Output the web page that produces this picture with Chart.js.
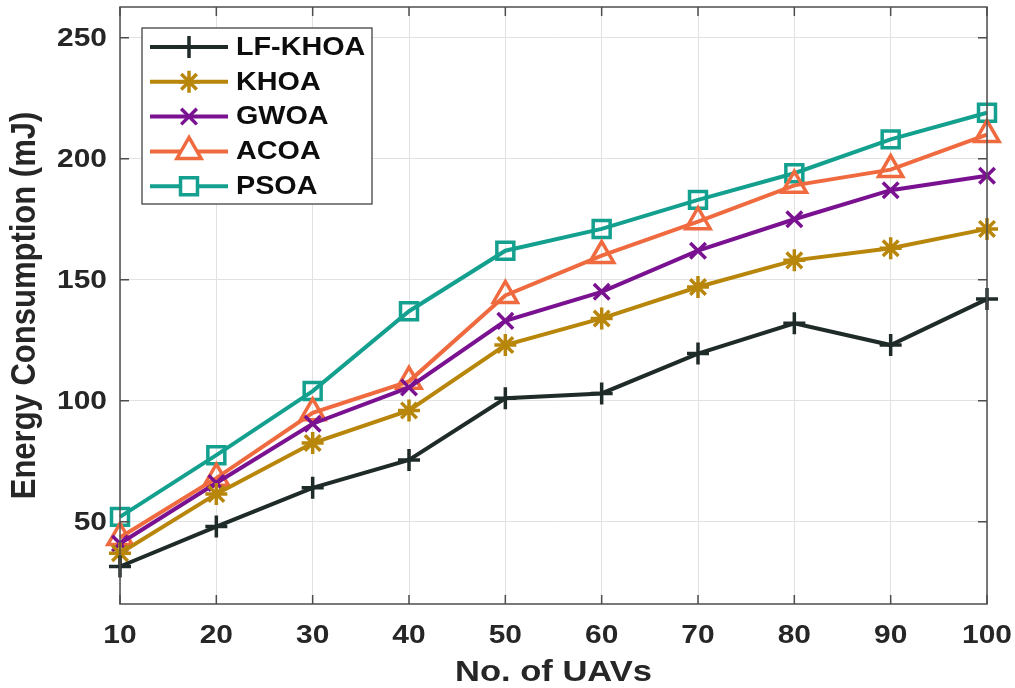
<!DOCTYPE html>
<html>
<head>
<meta charset="utf-8">
<script src="https://cdn.jsdelivr.net/npm/chart.js@4.4.1/dist/chart.umd.min.js"></script>
<style>
  html, body { margin: 0; padding: 0; background: #fff; }
  #wrap { width: 1015px; height: 688px; }
</style>
</head>
<body>
<div id="wrap"><canvas id="chartEnergi" width="1015" height="688"></canvas></div>
<script>
// Data dari gambar
const jumlahUAV = ['10', '20', '30', '40', '50', '60', '70', '80', '90', '100'];
const lfKhoa = [31.5, 48, 64, 75.5, 101, 103, 119.5, 132, 123, 142];
const khoa = [37, 61.5, 82.5, 96, 123, 134, 147, 158, 163, 171];
const gwoa = [41, 66, 90.5, 105.5, 133, 145, 162, 175, 187, 193];
const acoa = [43.5, 68, 95, 108, 143.5, 160, 174, 189, 195.5, 210];
const psoa = [52, 77.5, 104, 137, 162, 171, 183, 194, 208, 219];
const yTicks = [50, 100, 150, 200, 250];

const namaSeri = ['LF-KHOA', 'KHOA', 'GWOA', 'ACOA', 'PSOA'];
const warna = ['#1f2b29', '#b8860b', '#7a1190', '#ef6b3f', '#14a08e'];
const marker = ['cross', 'star', 'crossRot', 'triangle', 'rect'];
const ukuranMarker = [11, 11, 11, 14, 12];
const nilaiSeri = [lfKhoa, khoa, gwoa, acoa, psoa];

const fontUtama = '"Liberation Sans", Arial, sans-serif';
const regang = 1.15; // teks di gambar asli agak melebar

function buatDataset(i) {
    return {
        label: namaSeri[i],
        data: nilaiSeri[i],
        borderColor: warna[i],
        backgroundColor: 'rgba(0,0,0,0)',
        pointBorderColor: warna[i],
        pointBackgroundColor: 'rgba(0,0,0,0)',
        borderWidth: 4,
        pointBorderWidth: 3.5,
        pointStyle: marker[i],
        pointRadius: ukuranMarker[i],
        pointHoverRadius: ukuranMarker[i],
        tension: 0,
        clip: false
    };
}

function tulis(ctx, teks, x, y, ukuran, align, sudut) {
    ctx.save();
    ctx.translate(x, y);
    if (sudut) {
        ctx.rotate(sudut);
        ctx.scale(1, regang);
    } else {
        ctx.scale(regang, 1);
    }
    ctx.font = 'bold ' + ukuran + 'px ' + fontUtama;
    ctx.textAlign = align;
    ctx.textBaseline = 'middle';
    ctx.fillText(teks, 0, 0);
    ctx.restore();
}

// Bingkai, tick ke dalam dan label sumbu (gaya MATLAB)
const bingkaiPlugin = {
    id: 'bingkai',
    afterDatasetsDraw(chart) {
        const { ctx, chartArea: a, scales } = chart;
        ctx.save();
        ctx.strokeStyle = '#4d4d4d';
        ctx.lineWidth = 1.5;
        ctx.strokeRect(a.left, a.top, a.right - a.left, a.bottom - a.top);
        const tl = 9;
        ctx.beginPath();
        scales.x.ticks.forEach((t, i) => {
            const x = scales.x.getPixelForTick(i);
            ctx.moveTo(x, a.bottom); ctx.lineTo(x, a.bottom - tl);
            ctx.moveTo(x, a.top); ctx.lineTo(x, a.top + tl);
        });
        scales.y.ticks.forEach((t) => {
            const y = scales.y.getPixelForValue(t.value);
            ctx.moveTo(a.left, y); ctx.lineTo(a.left + tl, y);
            ctx.moveTo(a.right, y); ctx.lineTo(a.right - tl, y);
        });
        ctx.stroke();

        ctx.fillStyle = '#262626';
        jumlahUAV.forEach((lbl, i) => {
            tulis(ctx, lbl, scales.x.getPixelForTick(i), a.bottom + 32, 26, 'center');
        });
        yTicks.forEach((v) => {
            tulis(ctx, String(v), a.left - 13, scales.y.getPixelForValue(v) + 1, 26, 'right');
        });
        tulis(ctx, 'No. of UAVs', (a.left + a.right) / 2, 673, 30, 'center');
        tulis(ctx, 'Energy Consumption (mJ)', 25, (a.top + a.bottom) / 2, 31, 'center', -Math.PI / 2);
        ctx.restore();
    }
};

// Legenda kustom: garis + marker + teks
const legendaPlugin = {
    id: 'legendaKustom',
    afterDraw(chart) {
        const ctx = chart.ctx;
        const kiri = 142, atas = 28, lebar = 230, tinggi = 176;
        ctx.save();
        ctx.fillStyle = '#ffffff';
        ctx.fillRect(kiri, atas, lebar, tinggi);
        ctx.strokeStyle = '#333333';
        ctx.lineWidth = 1.2;
        ctx.strokeRect(kiri, atas, lebar, tinggi);
        chart.data.datasets.forEach((ds, i) => {
            const y = 47 + i * 34.8;
            ctx.strokeStyle = ds.borderColor;
            ctx.lineWidth = 4;
            ctx.beginPath();
            ctx.moveTo(150, y);
            ctx.lineTo(228, y);
            ctx.stroke();
            ctx.fillStyle = '#ffffff';
            ctx.lineWidth = 3.5;
            Chart.helpers.drawPoint(ctx, {
                pointStyle: ds.pointStyle,
                radius: ds.pointRadius,
                borderWidth: 3.5
            }, 189, y);
            ctx.fillStyle = '#0d0d0d';
            tulis(ctx, ds.label, 236, y + 1, 25, 'left');
        });
        ctx.restore();
    }
};

const ctx = document.getElementById('chartEnergi').getContext('2d');
new Chart(ctx, {
    type: 'line',
    data: {
        labels: jumlahUAV,
        datasets: namaSeri.map((n, i) => buatDataset(i))
    },
    options: {
        responsive: false,
        animation: false,
        devicePixelRatio: 1,
        layout: {
            autoPadding: false,
            padding: { left: 0, right: 28, top: 7, bottom: 0 }
        },
        plugins: {
            legend: { display: false },
            tooltip: { enabled: false }
        },
        scales: {
            x: {
                type: 'category',
                offset: false,
                grid: { color: '#e2e2e2', lineWidth: 1, drawTicks: false },
                border: { display: false },
                ticks: { display: false, autoSkip: false, maxRotation: 0 },
                afterFit(scale) {
                    scale.height = 84;
                    scale.paddingLeft = 0;
                    scale.paddingRight = 0;
                }
            },
            y: {
                type: 'linear',
                min: 16,
                max: 262.7,
                afterBuildTicks(scale) {
                    scale.ticks = yTicks.map(v => ({ value: v }));
                },
                grid: { color: '#e2e2e2', lineWidth: 1, drawTicks: false },
                border: { display: false },
                ticks: { display: false },
                afterFit(scale) {
                    scale.width = 120;
                    scale.paddingTop = 0;
                    scale.paddingBottom = 0;
                }
            }
        }
    },
    plugins: [bingkaiPlugin, legendaPlugin]
});
</script>
</body>
</html>
